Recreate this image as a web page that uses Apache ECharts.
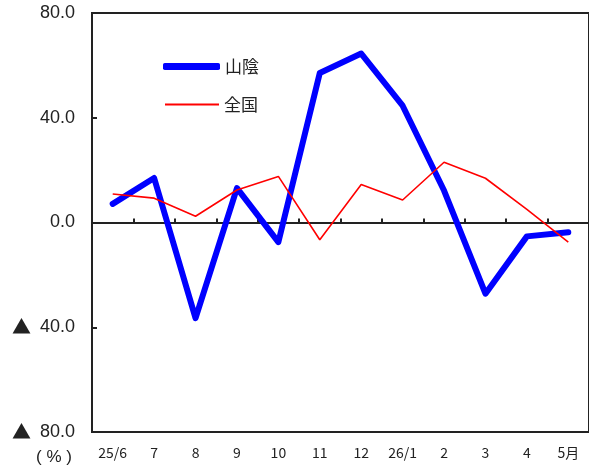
<!DOCTYPE html>
<html><head><meta charset="utf-8">
<script src="https://cdn.jsdelivr.net/npm/echarts@6/dist/echarts.min.js"></script>
<style>html,body{margin:0;padding:0;background:#fff}#c{width:589px;height:470px}</style>
</head><body><div id="c"></div>
<script>
const categories = ['25/6','7','8','9','10','11','12','26/1','2','3','4','5月'];
const sanin = [7.1, 17.0, -36.5, 13.1, -7.5, 57.1, 64.5, 44.6, 12.2, -27.2, -5.3, -3.7];
const zenkoku = [10.9, 9.3, 2.4, 12.4, 17.6, -6.6, 14.5, 8.6, 23.0, 16.9, 5.0, -7.5];
const yTicks = [-80, -40, 0, 40, 80];

const font = '"Noto Sans CJK JP", "Noto Sans", sans-serif';
const numFont = '"Liberation Sans", Arial, sans-serif';
const chart = echarts.init(document.getElementById('c'), null, {renderer: 'canvas'});
chart.setOption({
  animation: false,
  backgroundColor: '#fff',
  grid: {left: 92, right: -3, top: 13, bottom: 38, show: true, borderColor: '#222', borderWidth: 2, backgroundColor: 'transparent'},
  legend: [
    {data: ['山陰'], left: 163, top: 58, padding: 0, orient: 'vertical', itemWidth: 57, itemHeight: 7, icon: 'roundRect',
     textStyle: {fontSize: 17, color: '#222', fontFamily: font}},
    {data: ['全国'], left: 165, top: 96, padding: 0, orient: 'vertical', itemWidth: 54, itemHeight: 2, icon: 'rect',
     textStyle: {fontSize: 17, color: '#222', fontFamily: font}}
  ],
  xAxis: [
    {type: 'category', data: categories, boundaryGap: true,
     axisLine: {onZero: true, lineStyle: {color: '#222', width: 2}},
     axisTick: {show: true, inside: true, length: 4, lineStyle: {color: '#222', width: 2}},
     axisLabel: {show: false}},
    {type: 'category', data: categories, boundaryGap: true, position: 'bottom',
     axisLine: {show: false}, axisTick: {show: false},
     axisLabel: {show: true, margin: 14, fontSize: 14, color: '#222', fontFamily: font, interval: 0}}
  ],
  yAxis: {type: 'value', min: yTicks[0], max: yTicks[yTicks.length-1], interval: 40,
    axisLine: {show: true, lineStyle: {color: '#222', width: 2}},
    axisTick: {show: true, inside: true, length: 5, lineStyle: {color: '#222', width: 2}},
    splitLine: {show: false},
    axisLabel: {margin: 17, fontSize: 18, color: '#222', fontFamily: numFont,
      rich: {t: {fontFamily: font, fontSize: 19, color: '#222', padding: [0, 9, 0, 0]}},
      formatter: v => v < 0 ? '{t|▲}' + Math.abs(v).toFixed(1) : v.toFixed(1)}},
  graphic: [{type: 'text', left: 36, top: 449, style: {text: '( % )', fontSize: 17, fill: '#222', fontFamily: numFont}}],
  series: [
    {name: '山陰', type: 'line', data: sanin, xAxisIndex: 0, symbol: 'none', z: 3,
     lineStyle: {color: '#0000ff', width: 6, cap: 'round', join: 'round'}, itemStyle: {color: '#0000ff'}},
    {name: '全国', type: 'line', data: zenkoku, xAxisIndex: 0, symbol: 'none', z: 4,
     lineStyle: {color: '#ff0000', width: 1.6}, itemStyle: {color: '#ff0000'}}
  ]
});
</script></body></html>
